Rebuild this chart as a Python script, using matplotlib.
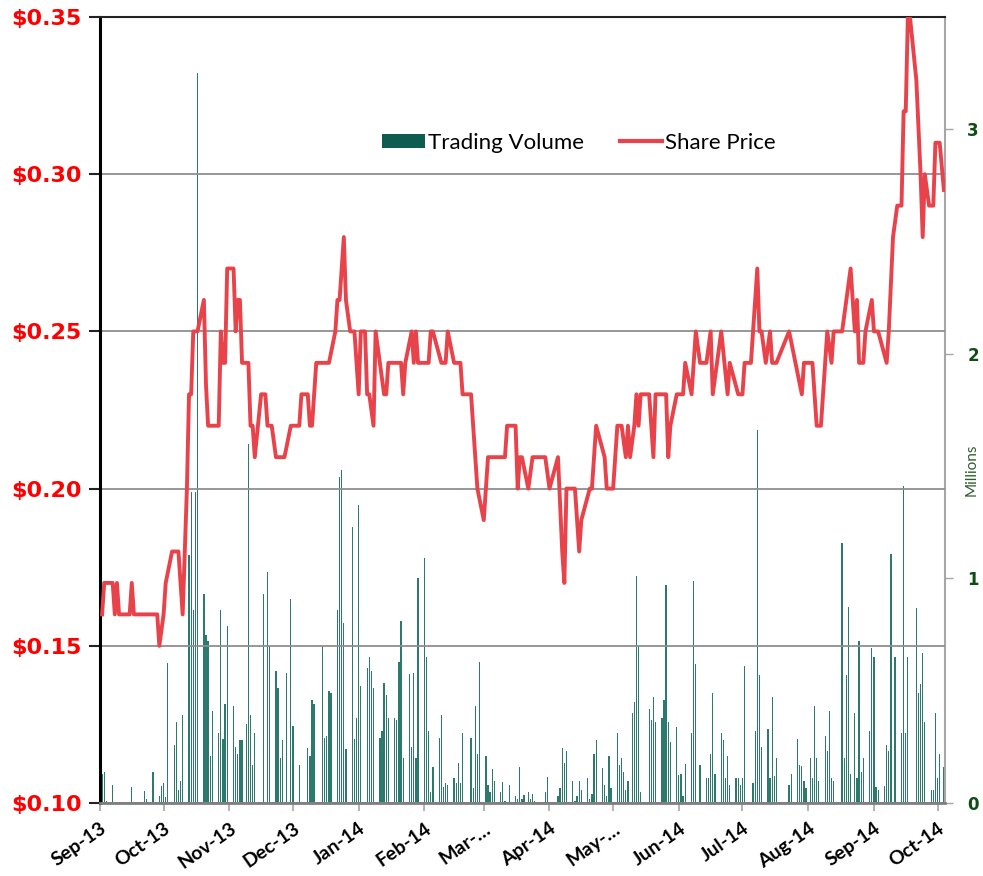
import pandas as pd
import matplotlib.pyplot as plt
from matplotlib.patches import Patch
from matplotlib.lines import Line2D
from matplotlib.ticker import FuncFormatter

# share price (A$) at the turning points of the line
price_dates = [
    "2013-09-02", "2013-09-03", "2013-09-07", "2013-09-08", "2013-09-09", "2013-09-10",
    "2013-09-15", "2013-09-16", "2013-09-17", "2013-09-28", "2013-09-29", "2013-10-01",
    "2013-10-02", "2013-10-05", "2013-10-08", "2013-10-10", "2013-10-12", "2013-10-13",
    "2013-10-14", "2013-10-15", "2013-10-17", "2013-10-20", "2013-10-21", "2013-10-22",
    "2013-10-27", "2013-10-28", "2013-10-29", "2013-10-30", "2013-10-31", "2013-11-03",
    "2013-11-04", "2013-11-05", "2013-11-06", "2013-11-07", "2013-11-10", "2013-11-11",
    "2013-11-12", "2013-11-13", "2013-11-16", "2013-11-18", "2013-11-19", "2013-11-21",
    "2013-11-23", "2013-11-27", "2013-11-30", "2013-12-04", "2013-12-05", "2013-12-08",
    "2013-12-09", "2013-12-10", "2013-12-12", "2013-12-18", "2013-12-21", "2013-12-22",
    "2013-12-23", "2013-12-25", "2013-12-26", "2013-12-28", "2013-12-30", "2014-01-01",
    "2014-01-02", "2014-01-04", "2014-01-05", "2014-01-06", "2014-01-08", "2014-01-09",
    "2014-01-11", "2014-01-13", "2014-01-14", "2014-01-15", "2014-01-21", "2014-01-22",
    "2014-01-23", "2014-01-26", "2014-01-27", "2014-01-28", "2014-01-29", "2014-02-03",
    "2014-02-04", "2014-02-05", "2014-02-09", "2014-02-11", "2014-02-12", "2014-02-15",
    "2014-02-18", "2014-02-19", "2014-02-23", "2014-02-26", "2014-03-01", "2014-03-03",
    "2014-03-11", "2014-03-12", "2014-03-16", "2014-03-17", "2014-03-18", "2014-03-19",
    "2014-03-22", "2014-03-24", "2014-03-30", "2014-04-01", "2014-04-05", "2014-04-07",
    "2014-04-08", "2014-04-09", "2014-04-13", "2014-04-15", "2014-04-16", "2014-04-20",
    "2014-04-21", "2014-04-23", "2014-04-27", "2014-04-28", "2014-05-01", "2014-05-03",
    "2014-05-05", "2014-05-07", "2014-05-08", "2014-05-09", "2014-05-11", "2014-05-12",
    "2014-05-13", "2014-05-14", "2014-05-18", "2014-05-20", "2014-05-21", "2014-05-24",
    "2014-05-26", "2014-05-27", "2014-05-28", "2014-05-31", "2014-06-03", "2014-06-04",
    "2014-06-07", "2014-06-09", "2014-06-11", "2014-06-14", "2014-06-16", "2014-06-17",
    "2014-06-19", "2014-06-21", "2014-06-24", "2014-06-25", "2014-06-29", "2014-07-01",
    "2014-07-02", "2014-07-05", "2014-07-08", "2014-07-09", "2014-07-10", "2014-07-12",
    "2014-07-14", "2014-07-15", "2014-07-17", "2014-07-23", "2014-07-26", "2014-07-29",
    "2014-07-30", "2014-08-03", "2014-08-05", "2014-08-07", "2014-08-10", "2014-08-12",
    "2014-08-13", "2014-08-17", "2014-08-19", "2014-08-21", "2014-08-23", "2014-08-24",
    "2014-08-25", "2014-08-27", "2014-08-28", "2014-08-31", "2014-09-01", "2014-09-03",
    "2014-09-07", "2014-09-08", "2014-09-10", "2014-09-12", "2014-09-14", "2014-09-15",
    "2014-09-16", "2014-09-17", "2014-09-18", "2014-09-21", "2014-09-23", "2014-09-24",
    "2014-09-25", "2014-09-27", "2014-09-29", "2014-09-30", "2014-10-02", "2014-10-04",
]
price_values = [
    0.16, 0.17, 0.17, 0.16, 0.17, 0.16,
    0.16, 0.17, 0.16, 0.16, 0.15, 0.16,
    0.17, 0.18, 0.18, 0.16, 0.20, 0.23,
    0.23, 0.25, 0.25, 0.26, 0.233, 0.22,
    0.22, 0.25, 0.24, 0.24, 0.27, 0.27,
    0.25, 0.26, 0.26, 0.24, 0.24, 0.22,
    0.22, 0.21, 0.23, 0.23, 0.22, 0.22,
    0.21, 0.21, 0.22, 0.22, 0.23, 0.23,
    0.22, 0.22, 0.24, 0.24, 0.25, 0.26,
    0.26, 0.28, 0.26, 0.25, 0.25, 0.23,
    0.25, 0.25, 0.23, 0.23, 0.22, 0.25,
    0.24, 0.23, 0.23, 0.24, 0.24, 0.23,
    0.24, 0.25, 0.24, 0.25, 0.24, 0.24,
    0.25, 0.25, 0.24, 0.24, 0.25, 0.24,
    0.24, 0.23, 0.23, 0.20, 0.19, 0.21,
    0.21, 0.22, 0.22, 0.20, 0.21, 0.21,
    0.20, 0.21, 0.21, 0.20, 0.21, 0.18,
    0.17, 0.20, 0.20, 0.18, 0.19, 0.20,
    0.20, 0.22, 0.21, 0.20, 0.20, 0.22,
    0.22, 0.21, 0.22, 0.21, 0.22, 0.23,
    0.22, 0.23, 0.23, 0.21, 0.23, 0.23,
    0.23, 0.21, 0.22, 0.23, 0.23, 0.24,
    0.23, 0.25, 0.24, 0.24, 0.25, 0.23,
    0.24, 0.25, 0.23, 0.24, 0.23, 0.23,
    0.24, 0.24, 0.27, 0.25, 0.25, 0.24,
    0.25, 0.24, 0.24, 0.25, 0.24, 0.23,
    0.24, 0.24, 0.22, 0.22, 0.25, 0.24,
    0.25, 0.25, 0.26, 0.27, 0.25, 0.26,
    0.24, 0.24, 0.25, 0.26, 0.25, 0.25,
    0.24, 0.25, 0.28, 0.29, 0.29, 0.32,
    0.32, 0.35, 0.35, 0.33, 0.30, 0.28,
    0.30, 0.29, 0.29, 0.31, 0.31, 0.295,
]

# daily trading volume, millions of shares
volume_dates = [
    "2013-09-02", "2013-09-03", "2013-09-04", "2013-09-07", "2013-09-08", "2013-09-09",
    "2013-09-10", "2013-09-16", "2013-09-18", "2013-09-22", "2013-09-23", "2013-09-26",
    "2013-09-29", "2013-09-30", "2013-10-01", "2013-10-02", "2013-10-03", "2013-10-06",
    "2013-10-07", "2013-10-08", "2013-10-09", "2013-10-10", "2013-10-13", "2013-10-14",
    "2013-10-15", "2013-10-16", "2013-10-17", "2013-10-20", "2013-10-21", "2013-10-22",
    "2013-10-23", "2013-10-24", "2013-10-27", "2013-10-28", "2013-10-29", "2013-10-30",
    "2013-10-31", "2013-11-03", "2013-11-04", "2013-11-05", "2013-11-06", "2013-11-07",
    "2013-11-09", "2013-11-10", "2013-11-11", "2013-11-12", "2013-11-13", "2013-11-17",
    "2013-11-19", "2013-11-20", "2013-11-23", "2013-11-24", "2013-11-25", "2013-11-26",
    "2013-11-28", "2013-11-30", "2013-12-01", "2013-12-04", "2013-12-08", "2013-12-09",
    "2013-12-10", "2013-12-11", "2013-12-15", "2013-12-16", "2013-12-17", "2013-12-18",
    "2013-12-19", "2013-12-22", "2013-12-23", "2013-12-24", "2013-12-25", "2013-12-26",
    "2013-12-29", "2013-12-30", "2013-12-31", "2014-01-01", "2014-01-02", "2014-01-05",
    "2014-01-06", "2014-01-07", "2014-01-08", "2014-01-11", "2014-01-12", "2014-01-13",
    "2014-01-14", "2014-01-15", "2014-01-18", "2014-01-19", "2014-01-20", "2014-01-21",
    "2014-01-22", "2014-01-25", "2014-01-26", "2014-01-27", "2014-01-28", "2014-01-29",
    "2014-02-01", "2014-02-02", "2014-02-03", "2014-02-04", "2014-02-05", "2014-02-08",
    "2014-02-09", "2014-02-10", "2014-02-11", "2014-02-12", "2014-02-15", "2014-02-16",
    "2014-02-17", "2014-02-18", "2014-02-19", "2014-02-23", "2014-02-24", "2014-02-25",
    "2014-02-26", "2014-02-27", "2014-03-02", "2014-03-03", "2014-03-04", "2014-03-05",
    "2014-03-06", "2014-03-09", "2014-03-10", "2014-03-11", "2014-03-13", "2014-03-16",
    "2014-03-17", "2014-03-18", "2014-03-19", "2014-03-20", "2014-03-22", "2014-03-23",
    "2014-03-24", "2014-03-25", "2014-03-30", "2014-03-31", "2014-04-05", "2014-04-06",
    "2014-04-07", "2014-04-08", "2014-04-09", "2014-04-12", "2014-04-13", "2014-04-14",
    "2014-04-15", "2014-04-16", "2014-04-19", "2014-04-20", "2014-04-21", "2014-04-22",
    "2014-04-23", "2014-04-26", "2014-04-27", "2014-04-28", "2014-04-29", "2014-04-30",
    "2014-05-03", "2014-05-04", "2014-05-05", "2014-05-06", "2014-05-07", "2014-05-08",
    "2014-05-10", "2014-05-11", "2014-05-12", "2014-05-13", "2014-05-14", "2014-05-18",
    "2014-05-19", "2014-05-20", "2014-05-21", "2014-05-24", "2014-05-25", "2014-05-26",
    "2014-05-27", "2014-05-28", "2014-05-31", "2014-06-01", "2014-06-02", "2014-06-03",
    "2014-06-04", "2014-06-07", "2014-06-08", "2014-06-09", "2014-06-11", "2014-06-14",
    "2014-06-15", "2014-06-16", "2014-06-17", "2014-06-18", "2014-06-21", "2014-06-22",
    "2014-06-23", "2014-06-24", "2014-06-25", "2014-06-28", "2014-06-29", "2014-06-30",
    "2014-07-01", "2014-07-02", "2014-07-06", "2014-07-07", "2014-07-08", "2014-07-09",
    "2014-07-10", "2014-07-13", "2014-07-14", "2014-07-15", "2014-07-16", "2014-07-17",
    "2014-07-23", "2014-07-24", "2014-07-27", "2014-07-28", "2014-07-29", "2014-07-30",
    "2014-07-31", "2014-08-02", "2014-08-03", "2014-08-04", "2014-08-05", "2014-08-06",
    "2014-08-09", "2014-08-10", "2014-08-11", "2014-08-12", "2014-08-13", "2014-08-17",
    "2014-08-18", "2014-08-19", "2014-08-20", "2014-08-21", "2014-08-23", "2014-08-24",
    "2014-08-25", "2014-08-26", "2014-08-27", "2014-08-30", "2014-08-31", "2014-09-01",
    "2014-09-02", "2014-09-03", "2014-09-06", "2014-09-07", "2014-09-08", "2014-09-09",
    "2014-09-11", "2014-09-14", "2014-09-15", "2014-09-16", "2014-09-17", "2014-09-21",
    "2014-09-22", "2014-09-23", "2014-09-24", "2014-09-25", "2014-09-28", "2014-09-29",
    "2014-09-30", "2014-10-01", "2014-10-02", "2014-10-04",
]
volume_millions = [
    0.13, 0.14, 0.01, 0.08, 0.006, 0.004,
    0.004, 0.07, 0.005, 0.055, 0.017, 0.14,
    0.03, 0.075, 0.09, 0.025, 0.625, 0.26,
    0.36, 0.06, 0.10, 0.39, 1.105, 1.387,
    0.86, 1.387, 3.25, 0.93, 0.75, 0.72,
    0.21, 0.41, 0.31, 0.86, 0.285, 0.44,
    0.79, 0.43, 0.25, 0.22, 0.28, 0.28,
    0.35, 1.60, 0.39, 0.17, 0.31, 0.93,
    1.03, 0.70, 0.59, 0.51, 0.20, 0.28,
    0.58, 0.91, 0.345, 0.17, 0.245, 0.21,
    0.46, 0.44, 0.70, 0.29, 0.30, 0.50,
    0.49, 0.86, 1.45, 1.485, 0.80, 0.24,
    1.23, 0.285, 0.38, 1.325, 0.52, 0.60,
    0.65, 0.59, 0.51, 0.29, 0.32, 0.535,
    0.48, 0.38, 0.38, 0.37, 0.63, 0.81,
    0.20, 0.575, 0.25, 0.58, 0.20, 1.00,
    1.09, 0.65, 0.32, 0.05, 0.16, 0.29,
    0.39, 0.07, 0.09, 0.08, 0.11, 0.09,
    0.18, 0.09, 0.31, 0.29, 0.065, 0.43,
    0.22, 0.63, 0.21, 0.08, 0.05, 0.15,
    0.10, 0.05, 0.095, 0.01, 0.08, 0.03,
    0.02, 0.16, 0.02, 0.035, 0.05, 0.02,
    0.04, 0.01, 0.05, 0.115, 0.03, 0.065,
    0.245, 0.18, 0.23, 0.10, 0.01, 0.03,
    0.10, 0.06, 0.11, 0.02, 0.04, 0.22,
    0.28, 0.155, 0.08, 0.03, 0.21, 0.065,
    0.31, 0.17, 0.20, 0.14, 0.06, 0.10,
    0.40, 0.45, 1.01, 0.70, 0.05, 0.42,
    0.37, 0.47, 0.36, 0.38, 0.46, 0.97,
    0.36, 0.27, 0.34, 0.125, 0.13, 0.03,
    0.175, 0.31, 0.99, 0.62, 0.17, 0.11,
    0.11, 0.22, 0.49, 0.13, 0.31, 0.28,
    0.11, 0.21, 0.08, 0.11, 0.11, 0.08,
    0.11, 0.61, 0.09, 0.32, 1.66, 0.57,
    0.25, 0.33, 0.11, 0.47, 0.12, 0.20,
    0.08, 0.13, 0.285, 0.17, 0.165, 0.10,
    0.065, 0.20, 0.11, 0.43, 0.20, 0.10,
    0.30, 0.23, 0.41, 0.11, 0.10, 1.16,
    0.20, 0.57, 0.875, 0.13, 0.40, 0.11,
    0.72, 0.14, 0.20, 0.32, 0.69, 0.65,
    0.07, 0.06, 0.075, 0.26, 0.23, 1.11,
    0.65, 0.31, 1.41, 0.31, 0.65, 0.87,
    0.49, 0.53, 0.67, 0.36, 0.06, 0.06,
    0.40, 0.11, 0.22, 0.16,
]

month_labels = ["Sep-13", "Oct-13", "Nov-13", "Dec-13", "Jan-14", "Feb-14", "Mar-…",
                "Apr-14", "May-…", "Jun-14", "Jul-14", "Aug-14", "Sep-14", "Oct-14"]

red = "#e8434a"
teal = "#2c7a6d"

fig = plt.figure(figsize=(9.83, 8.76), dpi=100)
ax = fig.add_axes([0.1017, 0.0833, 0.8596, 0.8973])
axv = ax.twinx()
ax.set_zorder(2)
ax.patch.set_visible(False)

# volume bars on the right axis
axv.bar(pd.to_datetime(volume_dates), volume_millions, width=0.6, color=teal, linewidth=0)
axv.set_ylim(0, 3.5)
axv.set_yticks([0, 1, 2, 3])
axv.tick_params(axis="y", length=6, width=1, color="#a6a6a6", pad=10,
                labelsize=12, labelcolor="#0f4d14")
for lab in axv.get_yticklabels():
    lab.set_fontweight("bold")

# price line on the left axis
ax.plot(pd.to_datetime(price_dates), price_values, color=red, lw=2.8,
        solid_joinstyle="round", zorder=3)
ax.set_ylim(0.10, 0.35)
ax.set_yticks([0.10, 0.15, 0.20, 0.25, 0.30, 0.35])
ax.yaxis.set_major_formatter(FuncFormatter(lambda v, p: f"${v:.2f}"))
ax.grid(axis="y", color="#8f8f8f", lw=1.3)
ax.tick_params(axis="y", length=8, width=1.5, color="#222222", pad=5,
               labelsize=16, labelcolor="#ff0000")
for lab in ax.get_yticklabels():
    lab.set_fontweight("bold")

month_starts = pd.date_range("2013-09-01", "2014-10-01", freq="MS")
ax.set_xticks(month_starts)
ax.set_xticklabels(month_labels, rotation=35, ha="right", rotation_mode="anchor",
                   fontsize=14, fontweight="bold", family="Lato")
ax.tick_params(axis="x", length=6, width=1.2, color="#a6a6a6", pad=6)
ax.set_xlim(pd.Timestamp("2013-09-01"), pd.Timestamp("2014-10-04 12:00"))

for side in ["top", "right", "bottom", "left"]:
    axv.spines[side].set_visible(False)
ax.spines["right"].set_visible(False)
axv.spines["right"].set_visible(True)
axv.spines["right"].set_color("#a6a6a6")
axv.spines["right"].set_linewidth(1.5)
ax.spines["left"].set_color("black")
ax.spines["left"].set_linewidth(2.2)
ax.spines["top"].set_color("#222222")
ax.spines["top"].set_linewidth(1.5)
ax.spines["bottom"].set_color("#7f7f7f")
ax.spines["bottom"].set_linewidth(2)

handles = [Patch(facecolor="#0d5c4f", label="Trading Volume"),
           Line2D([], [], color=red, lw=3, label="Share Price")]
ax.legend(handles=handles, loc="center", bbox_to_anchor=(0.567, 0.84), ncol=2,
          frameon=False, prop={"family": "Lato", "size": 16}, handlelength=1.9,
          handleheight=0.55, handletextpad=0.15, columnspacing=1.6)

fig.text(972 / 983, 1 - 470 / 876, "Millions", rotation=90, ha="center", va="center",
         fontsize=11, family="Lato", color="#2e5e2e")

fig.savefig("out.png", dpi=100)
